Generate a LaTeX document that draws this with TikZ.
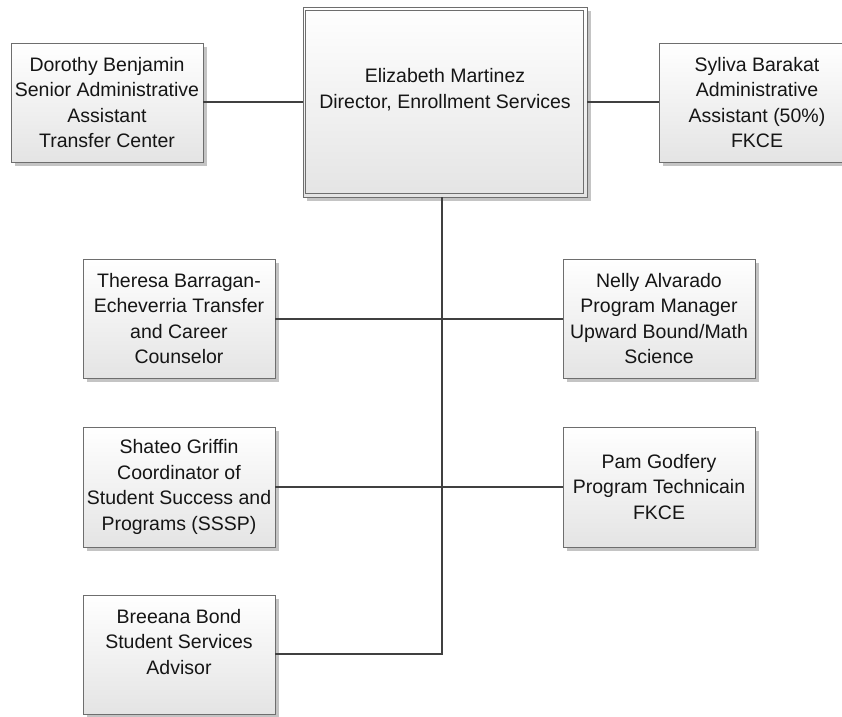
\documentclass[tikz,border=0pt]{standalone}
\usepackage{fontspec}
\setmainfont{Liberation Sans}
\usetikzlibrary{shadows}
\definecolor{boxborder}{HTML}{6E6E6E}
\definecolor{linecol}{HTML}{404040}
\definecolor{shadowcol}{HTML}{C4C4C4}
\definecolor{fillbottom}{HTML}{E4E4E4}
\definecolor{txt}{HTML}{151515}
\tikzset{
  orgbox/.style={draw=boxborder, line width=0.9pt, rectangle,
    top color=white, bottom color=fillbottom,
    drop shadow={shadow xshift=4pt, shadow yshift=-4pt, fill=shadowcol, opacity=1},
    align=center, inner sep=1pt, text=txt,
    font=\fontsize{19.5pt}{25.5pt}\selectfont,
    minimum width=192pt, minimum height=119pt},
  conn/.style={draw=linecol, line width=1.7pt}
}
\begin{document}
\begin{tikzpicture}[x=1pt,y=-1pt]
\useasboundingbox (0,0) rectangle (842,716);
\clip (0,0) rectangle (842,716);
% nodes
\node[orgbox, minimum width=284pt, minimum height=190pt] (dir) at (445,102)
  {Elizabeth Martinez\\Director, Enrollment Services\\[2pt]\mbox{}};
\draw[draw=boxborder, line width=0.9pt] ([shift={(3pt,-4pt)}]dir.north west) rectangle ([shift={(-4pt,4pt)}]dir.south east);
\node[orgbox] (dor) at (107,102.5)
  {Dorothy Benjamin\\Senior Administrative\\Assistant\\Transfer Center};
\node[orgbox, minimum width=196pt] (syl) at (757,102.5)
  {Syliva Barakat\\Administrative\\Assistant (50\%)\\FKCE};
\node[orgbox] (the) at (179,318.5)
  {Theresa Barragan-\\Echeverria Transfer\\and Career\\Counselor};
\node[orgbox] (nel) at (659,318.5)
  {Nelly Alvarado\\Program Manager\\Upward Bound/Math\\Science};
\node[orgbox, minimum height=120pt] (sha) at (179,487)
  {Shateo Griffin\\Coordinator of\\Student Success and\\Programs (SSSP)};
\node[orgbox, minimum height=120pt] (pam) at (659,487)
  {Pam Godfery\\Program Technicain\\FKCE};
\node[orgbox] (bre) at (179,654.5)
  {Breeana Bond\\Student Services\\Advisor\\\mbox{}};
% connectors
\coordinate (top) at (442,197);
\coordinate (j1) at (442,319);
\coordinate (j2) at (442,487);
\coordinate (j3) at (442,654);
\draw[conn] (dor.east |- 0,102) -- (dir.west |- 0,102);
\draw[conn] (dir.east |- 0,102) -- (syl.west |- 0,102);
\draw[conn] (top) -- (j3) -- (bre.east |- j3);
\draw[conn] (the.east |- j1) -- (nel.west |- j1);
\draw[conn] (sha.east |- j2) -- (pam.west |- j2);
\end{tikzpicture}
\end{document}
